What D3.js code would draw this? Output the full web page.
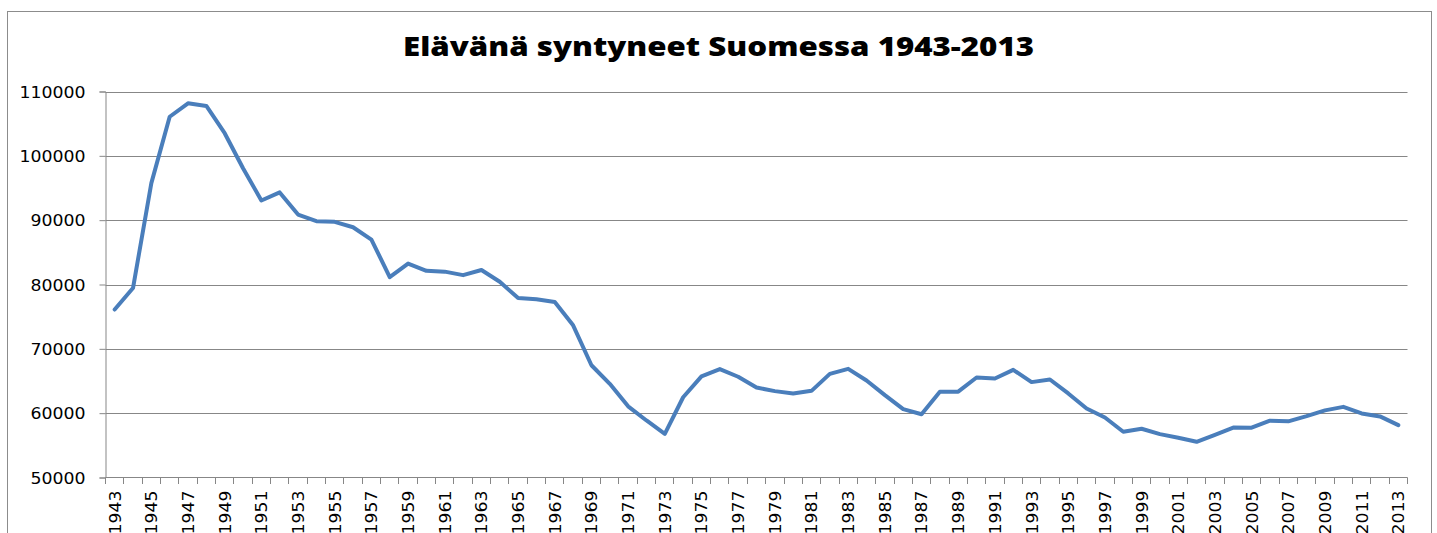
<!DOCTYPE html>
<html>
<head>
<meta charset="utf-8">
<script src="https://cdn.jsdelivr.net/npm/d3@7"></script>
<style>
html, body { margin: 0; padding: 0; background: #ffffff; }
svg { display: block; }
</style>
</head>
<body>
<script>
const title = "Elävänä syntyneet Suomessa 1943-2013";
const years = [1943,1944,1945,1946,1947,1948,1949,1950,1951,1952,1953,1954,1955,1956,1957,1958,1959,1960,1961,1962,1963,1964,1965,1966,1967,1968,1969,1970,1971,1972,1973,1974,1975,1976,1977,1978,1979,1980,1981,1982,1983,1984,1985,1986,1987,1988,1989,1990,1991,1992,1993,1994,1995,1996,1997,1998,1999,2000,2001,2002,2003,2004,2005,2006,2007,2008,2009,2010,2011,2012,2013];
const births = [76112,79446,95758,106075,108168,107759,103515,98065,93063,94314,90866,89845,89740,88896,86985,81148,83253,82129,81996,81454,82251,80428,77885,77697,77289,73654,67450,64559,61067,58864,56787,62472,65719,66846,65659,63983,63428,63064,63469,66106,66892,65076,62796,60632,59827,63316,63348,65549,65395,66731,64826,65231,63067,60723,59329,57108,57574,56742,56189,55555,56630,57758,57745,58840,58729,59530,60430,60980,59961,59493,58134];
const yTicks = [50000,60000,70000,80000,90000,100000,110000];
const xLabelYears = years.filter((d, i) => i % 2 === 0);

const W = 1437, H = 533;
const svg = d3.select("body").append("svg").attr("width", W).attr("height", H);

// chart border
svg.append("rect")
  .attr("x", 7.5).attr("y", 11.5)
  .attr("width", 1424).attr("height", 560)
  .attr("fill", "#fff").attr("stroke", "#8c8c8c").attr("stroke-width", 1);

const x = d3.scaleBand().domain(years).range([105.5, 1407.5]).padding(0);
const y = d3.scaleLinear().domain([50000, 110000]).range([477.5, 91.5]);

// title
svg.append("text")
  .attr("x", 718.5).attr("y", 56)
  .attr("text-anchor", "middle")
  .attr("font-family", "'Open Sans', 'Liberation Sans', sans-serif")
  .attr("font-weight", 800)
  .attr("font-size", 27)
  .attr("textLength", 631)
  .attr("lengthAdjust", "spacingAndGlyphs")
  .attr("fill", "#000")
  .text(title);

// gridlines
svg.append("g").selectAll("line").data(yTicks.filter(d => d > 50000)).join("line")
  .attr("x1", 105.5).attr("x2", 1407.5)
  .attr("y1", d => Math.round(y(d)) + 0.5).attr("y2", d => Math.round(y(d)) + 0.5)
  .attr("stroke", "#878787").attr("stroke-width", 1);

// y axis
const yAxis = svg.append("g").attr("transform", "translate(105.5,0)")
  .call(d3.axisLeft(y).tickValues(yTicks).tickSize(6).tickFormat(d3.format("d")));
yAxis.select(".domain").attr("stroke", "#878787");
yAxis.selectAll(".tick line").attr("stroke", "#878787");
yAxis.selectAll(".tick text")
  .attr("x", -20)
  .attr("font-family", "'DejaVu Sans', sans-serif")
  .attr("font-size", 16)
  .attr("fill", "#000")
  .attr("dy", "0.36em")
  .attr("textLength", d => String(d).length * 11)
  .attr("lengthAdjust", "spacingAndGlyphs");

// x axis (labels on every other category)
const xAxis = svg.append("g").attr("transform", "translate(0,477.5)")
  .call(d3.axisBottom(x).tickValues(xLabelYears).tickSize(0).tickFormat(d => String(d)));
xAxis.select(".domain").remove();
xAxis.selectAll(".tick text")
  .attr("transform", "rotate(-90)")
  .attr("text-anchor", "end")
  .attr("x", -13)
  .attr("y", 0)
  .attr("dy", "0.36em")
  .attr("font-family", "'DejaVu Sans', sans-serif")
  .attr("font-size", 16.5)
  .attr("fill", "#000")
  .attr("textLength", 44)
  .attr("lengthAdjust", "spacingAndGlyphs");

// x axis baseline and boundary ticks
svg.append("line")
  .attr("x1", 105.5).attr("x2", 1407.5)
  .attr("y1", 477.5).attr("y2", 477.5)
  .attr("stroke", "#878787");
const bounds = years.map(d => x(d)).concat([x(years[years.length - 1]) + x.bandwidth()]);
svg.append("g").selectAll("line").data(bounds).join("line")
  .attr("x1", d => Math.round(d - 0.5) + 0.5).attr("x2", d => Math.round(d - 0.5) + 0.5)
  .attr("y1", 477.5).attr("y2", 484)
  .attr("stroke", "#878787");

// data line
const line = d3.line()
  .x((d, i) => x(years[i]) + x.bandwidth() / 2)
  .y(d => y(d));
svg.append("path")
  .datum(births)
  .attr("d", line)
  .attr("fill", "none")
  .attr("stroke", "#4a7ebb")
  .attr("stroke-width", 4)
  .attr("stroke-linejoin", "round")
  .attr("stroke-linecap", "round");
</script>
</body>
</html>
